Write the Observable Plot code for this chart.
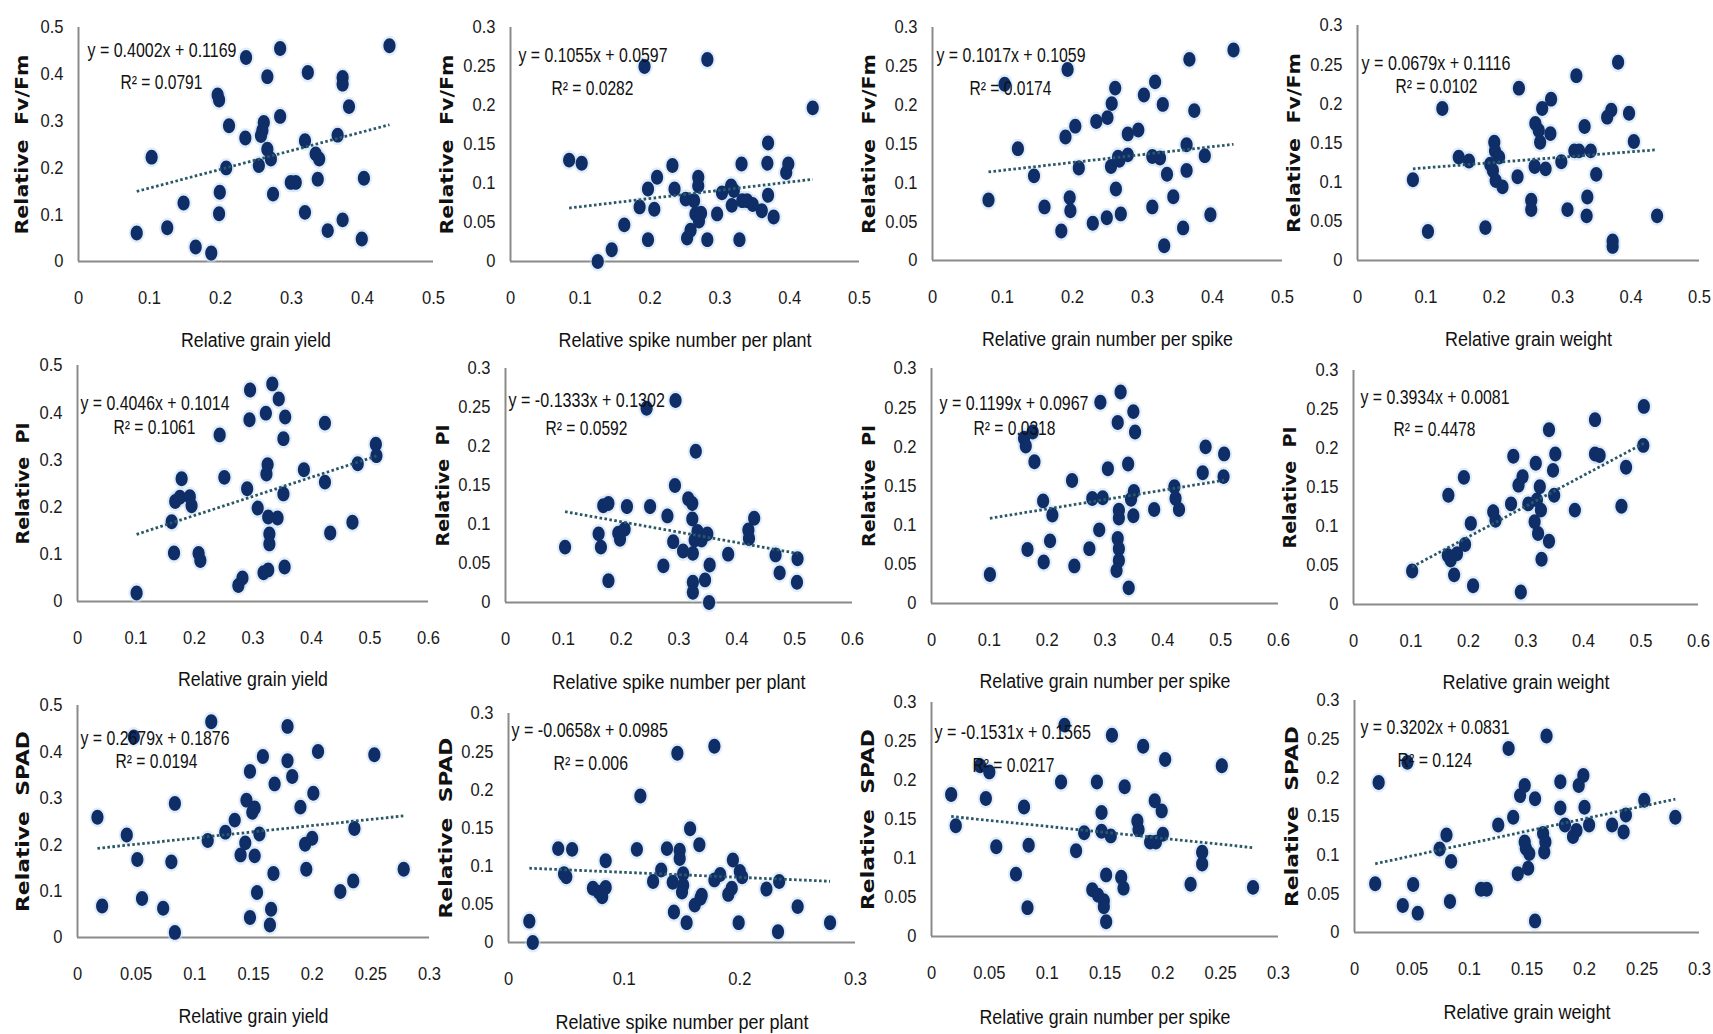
<!DOCTYPE html>
<html><head><meta charset="utf-8">
<script src="https://cdn.jsdelivr.net/npm/d3@7"></script>
<script src="https://cdn.jsdelivr.net/npm/@observablehq/plot@0.6"></script>
<style>
html,body{margin:0;padding:0;background:#fff;}
#chart{position:relative;width:1713px;height:1034px;overflow:hidden;background:#fff;}
#chart svg{position:absolute;}
</style></head><body><div id="chart"></div>
<script>
// ---------- DATA ----------
const yLabels = ["Relative  Fv/Fm", "Relative  PI", "Relative  SPAD"];
const xLabels = ["Relative grain yield", "Relative spike number per plant", "Relative grain number per spike", "Relative grain weight"];

const fvfm_yield = [[0.082,0.061],[0.103,0.223],[0.125,0.072],[0.148,0.125],[0.165,0.031],[0.187,0.018],[0.196,0.356],[0.198,0.345],[0.199,0.148],[0.198,0.102],[0.208,0.200],[0.212,0.290],[0.236,0.436],[0.235,0.264],[0.254,0.205],[0.257,0.269],[0.261,0.297],[0.259,0.280],[0.266,0.395],[0.266,0.240],[0.271,0.219],[0.274,0.144],[0.284,0.455],[0.284,0.310],[0.299,0.169],[0.306,0.169],[0.319,0.258],[0.319,0.105],[0.323,0.404],[0.334,0.230],[0.339,0.219],[0.337,0.176],[0.351,0.066],[0.365,0.270],[0.372,0.393],[0.372,0.379],[0.381,0.331],[0.372,0.089],[0.399,0.048],[0.402,0.178],[0.438,0.461]];
const fvfm_spike = [[0.084,0.130],[0.102,0.126],[0.125,0.000],[0.145,0.015],[0.163,0.047],[0.185,0.070],[0.192,0.250],[0.197,0.093],[0.197,0.028],[0.206,0.067],[0.210,0.108],[0.232,0.123],[0.235,0.093],[0.251,0.080],[0.253,0.030],[0.258,0.040],[0.263,0.078],[0.265,0.061],[0.269,0.108],[0.269,0.097],[0.270,0.052],[0.273,0.062],[0.282,0.259],[0.282,0.028],[0.296,0.061],[0.303,0.088],[0.316,0.097],[0.317,0.072],[0.320,0.091],[0.328,0.028],[0.331,0.125],[0.332,0.078],[0.339,0.078],[0.347,0.073],[0.360,0.065],[0.369,0.152],[0.368,0.126],[0.369,0.085],[0.377,0.057],[0.395,0.114],[0.398,0.125],[0.433,0.197]];
const fvfm_grainNum = [[0.080,0.078],[0.103,0.227],[0.122,0.144],[0.145,0.109],[0.160,0.069],[0.184,0.038],[0.190,0.159],[0.193,0.246],[0.196,0.081],[0.197,0.064],[0.204,0.173],[0.209,0.119],[0.229,0.048],[0.234,0.179],[0.249,0.055],[0.250,0.184],[0.256,0.202],[0.261,0.222],[0.262,0.092],[0.255,0.121],[0.267,0.129],[0.269,0.060],[0.265,0.133],[0.279,0.136],[0.279,0.163],[0.294,0.168],[0.302,0.213],[0.314,0.069],[0.314,0.134],[0.318,0.230],[0.325,0.132],[0.329,0.201],[0.331,0.019],[0.335,0.111],[0.344,0.082],[0.358,0.042],[0.363,0.149],[0.363,0.116],[0.367,0.259],[0.374,0.193],[0.389,0.135],[0.397,0.059],[0.430,0.271]];
const fvfm_weight = [[0.081,0.103],[0.103,0.037],[0.124,0.194],[0.148,0.132],[0.163,0.127],[0.187,0.042],[0.200,0.151],[0.201,0.140],[0.194,0.123],[0.198,0.115],[0.202,0.102],[0.207,0.132],[0.212,0.094],[0.234,0.107],[0.236,0.220],[0.254,0.077],[0.254,0.065],[0.260,0.175],[0.259,0.120],[0.265,0.166],[0.267,0.151],[0.270,0.194],[0.275,0.117],[0.282,0.162],[0.283,0.206],[0.298,0.126],[0.307,0.065],[0.317,0.140],[0.320,0.236],[0.324,0.140],[0.332,0.171],[0.336,0.081],[0.335,0.057],[0.341,0.140],[0.349,0.110],[0.365,0.183],[0.371,0.192],[0.373,0.025],[0.373,0.018],[0.381,0.253],[0.397,0.188],[0.404,0.152],[0.438,0.057]];
const pi_yield = [[0.101,0.018],[0.161,0.169],[0.165,0.103],[0.167,0.212],[0.175,0.221],[0.178,0.260],[0.192,0.222],[0.195,0.203],[0.207,0.102],[0.210,0.087],[0.243,0.353],[0.251,0.263],[0.275,0.034],[0.282,0.050],[0.290,0.239],[0.294,0.385],[0.295,0.448],[0.308,0.198],[0.318,0.061],[0.322,0.399],[0.323,0.270],[0.325,0.290],[0.326,0.067],[0.326,0.179],[0.328,0.143],[0.328,0.122],[0.333,0.461],[0.342,0.177],[0.344,0.429],[0.352,0.228],[0.352,0.345],[0.355,0.391],[0.354,0.073],[0.387,0.279],[0.423,0.378],[0.423,0.253],[0.432,0.145],[0.470,0.168],[0.479,0.292],[0.510,0.333],[0.511,0.309]];
const pi_spike = [[0.103,0.071],[0.161,0.088],[0.165,0.071],[0.169,0.124],[0.178,0.127],[0.178,0.028],[0.195,0.089],[0.198,0.081],[0.206,0.094],[0.210,0.123],[0.244,0.249],[0.250,0.123],[0.273,0.047],[0.280,0.111],[0.290,0.078],[0.293,0.150],[0.294,0.259],[0.307,0.066],[0.316,0.133],[0.323,0.127],[0.323,0.107],[0.324,0.063],[0.324,0.026],[0.324,0.013],[0.327,0.080],[0.329,0.194],[0.332,0.091],[0.339,0.080],[0.345,0.029],[0.349,0.088],[0.352,0.000],[0.353,0.048],[0.385,0.062],[0.420,0.093],[0.421,0.082],[0.430,0.108],[0.467,0.061],[0.474,0.038],[0.505,0.056],[0.504,0.026]];
const pi_grainNum = [[0.101,0.037],[0.160,0.211],[0.163,0.201],[0.166,0.069],[0.175,0.219],[0.178,0.181],[0.193,0.131],[0.194,0.053],[0.205,0.080],[0.209,0.113],[0.243,0.157],[0.247,0.048],[0.273,0.070],[0.278,0.134],[0.290,0.094],[0.292,0.257],[0.296,0.135],[0.305,0.172],[0.322,0.231],[0.322,0.083],[0.324,0.119],[0.324,0.109],[0.324,0.070],[0.324,0.055],[0.320,0.042],[0.327,0.270],[0.340,0.178],[0.341,0.020],[0.345,0.133],[0.349,0.245],[0.352,0.219],[0.350,0.143],[0.349,0.112],[0.385,0.120],[0.420,0.149],[0.422,0.134],[0.428,0.120],[0.469,0.167],[0.474,0.200],[0.505,0.162],[0.506,0.191]];
const pi_weight = [[0.102,0.043],[0.165,0.140],[0.164,0.063],[0.169,0.057],[0.175,0.038],[0.180,0.065],[0.192,0.163],[0.194,0.077],[0.204,0.104],[0.208,0.024],[0.243,0.119],[0.247,0.108],[0.274,0.129],[0.278,0.190],[0.287,0.153],[0.294,0.164],[0.291,0.016],[0.304,0.129],[0.315,0.106],[0.317,0.181],[0.319,0.134],[0.321,0.091],[0.324,0.151],[0.326,0.121],[0.327,0.058],[0.340,0.081],[0.340,0.224],[0.347,0.172],[0.349,0.140],[0.351,0.193],[0.385,0.121],[0.420,0.237],[0.420,0.193],[0.428,0.191],[0.466,0.126],[0.474,0.176],[0.505,0.254],[0.504,0.204]];
const spad_yield = [[0.017,0.259],[0.021,0.068],[0.042,0.221],[0.048,0.432],[0.051,0.168],[0.055,0.084],[0.073,0.063],[0.080,0.163],[0.083,0.289],[0.083,0.011],[0.111,0.209],[0.114,0.465],[0.126,0.227],[0.134,0.253],[0.139,0.178],[0.144,0.296],[0.143,0.204],[0.147,0.043],[0.147,0.358],[0.149,0.270],[0.151,0.279],[0.151,0.176],[0.153,0.097],[0.155,0.223],[0.158,0.390],[0.164,0.027],[0.165,0.061],[0.167,0.138],[0.168,0.331],[0.179,0.455],[0.179,0.381],[0.183,0.347],[0.190,0.281],[0.194,0.201],[0.195,0.147],[0.200,0.214],[0.201,0.311],[0.205,0.401],[0.224,0.099],[0.235,0.122],[0.236,0.235],[0.253,0.394],[0.278,0.147]];
const spad_spike = [[0.018,0.028],[0.021,0.000],[0.043,0.123],[0.048,0.090],[0.050,0.086],[0.055,0.122],[0.073,0.071],[0.078,0.066],[0.081,0.060],[0.084,0.072],[0.084,0.107],[0.111,0.122],[0.114,0.192],[0.125,0.080],[0.132,0.095],[0.137,0.123],[0.142,0.079],[0.143,0.040],[0.146,0.248],[0.148,0.121],[0.148,0.110],[0.150,0.066],[0.151,0.090],[0.151,0.075],[0.154,0.026],[0.157,0.149],[0.161,0.049],[0.165,0.128],[0.166,0.058],[0.167,0.062],[0.178,0.257],[0.178,0.082],[0.183,0.089],[0.190,0.063],[0.193,0.071],[0.194,0.108],[0.199,0.026],[0.200,0.093],[0.202,0.086],[0.223,0.070],[0.233,0.014],[0.234,0.080],[0.250,0.047],[0.278,0.026]];
const spad_grainNum = [[0.017,0.182],[0.021,0.142],[0.042,0.219],[0.047,0.177],[0.050,0.211],[0.056,0.115],[0.073,0.080],[0.080,0.166],[0.083,0.037],[0.084,0.117],[0.112,0.198],[0.115,0.271],[0.125,0.110],[0.132,0.133],[0.139,0.060],[0.143,0.198],[0.144,0.053],[0.147,0.159],[0.147,0.135],[0.149,0.046],[0.149,0.038],[0.151,0.019],[0.151,0.079],[0.155,0.129],[0.156,0.258],[0.164,0.076],[0.166,0.062],[0.167,0.192],[0.178,0.148],[0.179,0.137],[0.183,0.244],[0.189,0.121],[0.193,0.174],[0.194,0.121],[0.199,0.161],[0.200,0.131],[0.202,0.227],[0.224,0.067],[0.234,0.108],[0.234,0.093],[0.251,0.219],[0.278,0.063]];
const spad_weight = [[0.018,0.063],[0.021,0.194],[0.042,0.035],[0.046,0.220],[0.051,0.062],[0.055,0.025],[0.074,0.108],[0.080,0.126],[0.084,0.092],[0.083,0.040],[0.110,0.056],[0.115,0.056],[0.125,0.139],[0.134,0.238],[0.138,0.149],[0.142,0.076],[0.144,0.177],[0.148,0.190],[0.148,0.117],[0.149,0.109],[0.151,0.083],[0.152,0.102],[0.157,0.173],[0.157,0.015],[0.164,0.128],[0.165,0.104],[0.166,0.117],[0.167,0.254],[0.179,0.195],[0.179,0.161],[0.183,0.139],[0.190,0.124],[0.193,0.132],[0.195,0.190],[0.199,0.203],[0.200,0.162],[0.204,0.139],[0.224,0.139],[0.234,0.130],[0.236,0.152],[0.252,0.171],[0.279,0.149]];

const datasets = [fvfm_yield, fvfm_spike, fvfm_grainNum, fvfm_weight, pi_yield, pi_spike, pi_grainNum, pi_weight, spad_yield, spad_spike, spad_grainNum, spad_weight];
const slopes     = [0.4002, 0.1055, 0.1017, 0.0679, 0.4046, -0.1333, 0.1199, 0.3934, 0.2679, -0.0658, -0.1531, 0.3202];
const intercepts = [0.1169, 0.0597, 0.1059, 0.1116, 0.1014, 0.1302, 0.0967, 0.0081, 0.1876, 0.0985, 0.1565, 0.0831];
const r2s        = ["0.0791", "0.0282", "0.0174", "0.0102", "0.1061", "0.0592", "0.0318", "0.4478", "0.0194", "0.006", "0.0217", "0.124"];

const xTicks5 = [0, 0.1, 0.2, 0.3, 0.4, 0.5];
const xTicks6 = [0, 0.1, 0.2, 0.3, 0.4, 0.5, 0.6];
const xTicks3f = [0, 0.05, 0.1, 0.15, 0.2, 0.25, 0.3];
const xTicks3 = [0, 0.1, 0.2, 0.3];
const yTicks5 = [0, 0.1, 0.2, 0.3, 0.4, 0.5];
const yTicks3 = [0, 0.05, 0.1, 0.15, 0.2, 0.25, 0.3];
const xTickSets = [xTicks5, xTicks5, xTicks5, xTicks5, xTicks6, xTicks6, xTicks6, xTicks6, xTicks3f, xTicks3, xTicks3f, xTicks3f];
const yTickSets = [yTicks5, yTicks3, yTicks3, yTicks3, yTicks5, yTicks3, yTicks3, yTicks3, yTicks5, yTicks3, yTicks3, yTicks3];

// ---------- LAYOUT (pixels) ----------
const layout = [
 {ax:78,  top:27,  pw:355, ph:234, ylab:56, xlab:79, eq:[9,23], r2:[42,55]},
 {ax:510, top:27,  pw:349, ph:234, ylab:63, xlab:79, eq:[8,28], r2:[41,61]},
 {ax:932, top:27,  pw:350, ph:233, ylab:63, xlab:79, eq:[4,28], r2:[37,61]},
 {ax:1357,top:25,  pw:342, ph:235, ylab:63, xlab:79, eq:[4,38], r2:[38,61]},
 {ax:77,  top:365, pw:351, ph:236, ylab:54, xlab:78, eq:[3,38], r2:[36,62]},
 {ax:505, top:368, pw:347, ph:234, ylab:62, xlab:80, eq:[3,32], r2:[40,60]},
 {ax:931, top:368, pw:347, ph:235, ylab:62, xlab:78, eq:[8,35], r2:[42,60]},
 {ax:1353,top:370, pw:345, ph:234, ylab:63, xlab:78, eq:[7,27], r2:[40,59]},
 {ax:77,  top:705, pw:352, ph:232, ylab:54, xlab:79, eq:[3,33], r2:[38,56]},
 {ax:508, top:713, pw:347, ph:229, ylab:62, xlab:80, eq:[3,17], r2:[45,50]},
 {ax:931, top:702, pw:347, ph:234, ylab:63, xlab:81, eq:[3,30], r2:[41,63]},
 {ax:1354,top:700, pw:345, ph:232, ylab:62, xlab:80, eq:[6,27], r2:[43,60]}
];
const xLabelWidths = [150, 253, 251, 167];
const yLabelWidths = [180, 122, 181];

const DOT = "#0f2e68", HALO = "#c4dcf2", TREND = "#2a5868", AXIS = "#8a8a8a";
const BODY_FONT = "'Liberation Sans', Arial, sans-serif";

// slightly tall ellipse marker
const ellipse = {
  draw(ctx, size) {
    const r = Math.sqrt(size / Math.PI);
    const rx = r * 0.88, ry = r * 1.08, k = 0.5523;
    ctx.moveTo(rx, 0);
    ctx.bezierCurveTo(rx, ry * k, rx * k, ry, 0, ry);
    ctx.bezierCurveTo(-rx * k, ry, -rx, ry * k, -rx, 0);
    ctx.bezierCurveTo(-rx, -ry * k, -rx * k, -ry, 0, -ry);
    ctx.bezierCurveTo(rx * k, -ry, rx, -ry * k, rx, 0);
    ctx.closePath();
  }
};
const fmt = d => String(d);

const chart = document.getElementById("chart");
const mL = 80, mT = 30, mR = 14, mB = 100;

layout.forEach((L, i) => {
  const data = datasets[i];
  const row = Math.floor(i / 4), col = i % 4;
  const xs = data.map(d => d[0]);
  const trend = [d3.min(xs), d3.max(xs)].map(x => ({x, y: slopes[i] * x + intercepts[i]}));
  const eq = `y = ${slopes[i]}x + ${intercepts[i]}`;
  const r2 = `R² = ${r2s[i]}`;
  const xMax = xTickSets[i][xTickSets[i].length - 1];
  const yMax = yTickSets[i][yTickSets[i].length - 1];
  const svg = Plot.plot({
    width: mL + L.pw + mR, height: mT + L.ph + mB,
    marginLeft: mL, marginTop: mT, marginRight: mR, marginBottom: mB,
    x: {domain: [0, xMax]},
    y: {domain: [0, yMax]},
    style: {fontFamily: BODY_FONT, fontSize: "18.5px", background: "transparent", overflow: "visible", color: "#1a1a1a"},
    marks: [
      Plot.ruleX([0], {stroke: AXIS, strokeWidth: 2}),
      Plot.ruleY([0], {stroke: AXIS, strokeWidth: 2}),
      Plot.axisX({ticks: xTickSets[i], tickSize: 0, tickPadding: 29, tickFormat: fmt, label: null, fontSize: 18.5}),
      Plot.axisY({ticks: yTickSets[i], tickSize: 0, tickPadding: 15, tickFormat: fmt, label: null, fontSize: 18.5}),
      Plot.dot(data, {x: d => d[0], y: d => d[1], r: 9.2, symbol: ellipse, fill: HALO, fillOpacity: 0.5}),
      Plot.dot(data, {x: d => d[0], y: d => d[1], r: 6.9, symbol: ellipse, fill: DOT}),
      Plot.line(trend, {x: "x", y: "y", stroke: TREND, strokeWidth: 2.8, strokeDasharray: "2.6,2.4", strokeLinecap: "butt"}),
      Plot.text([eq], {frameAnchor: "top-left", dx: L.eq[0], dy: L.eq[1], textAnchor: "start", lineAnchor: "middle", fontSize: 19.5, fill: "#111"}),
      Plot.text([r2], {frameAnchor: "top-left", dx: L.r2[0], dy: L.r2[1], textAnchor: "start", lineAnchor: "middle", fontSize: 19.5, fill: "#111"}),
      Plot.text([yLabels[row]], {frameAnchor: "left", rotate: -90, dx: -L.ylab, textAnchor: "middle", lineAnchor: "middle", fontFamily: "'DejaVu Sans', Verdana, sans-serif", fontWeight: "bold", fontSize: 18.5, fill: "#111"}),
      Plot.text([xLabels[col]], {frameAnchor: "bottom", dy: L.xlab, textAnchor: "middle", lineAnchor: "middle", fontSize: 20, fill: "#111"})
    ]
  });
  svg.style.left = (L.ax - mL) + "px";
  svg.style.top = (L.top - mT) + "px";
  const widths = new Map([
    [eq, 7.45 * eq.length],
    [r2, 7.45 * r2.length],
    [yLabels[row], yLabelWidths[row]],
    [xLabels[col], xLabelWidths[col]]
  ]);
  svg.querySelectorAll("text").forEach(t => {
    const s = t.textContent;
    let w = widths.get(s);
    if (w == null && /^\d(\.\d+)?$/.test(s)) {
      const digits = s.replace(".", "").length, dots = s.includes(".") ? 1 : 0;
      w = 9.2 * digits + 4.6 * dots;
    }
    if (w != null) {
      t.setAttribute("textLength", w);
      t.setAttribute("lengthAdjust", "spacingAndGlyphs");
    }
  });
  chart.appendChild(svg);
});
</script></body></html>
